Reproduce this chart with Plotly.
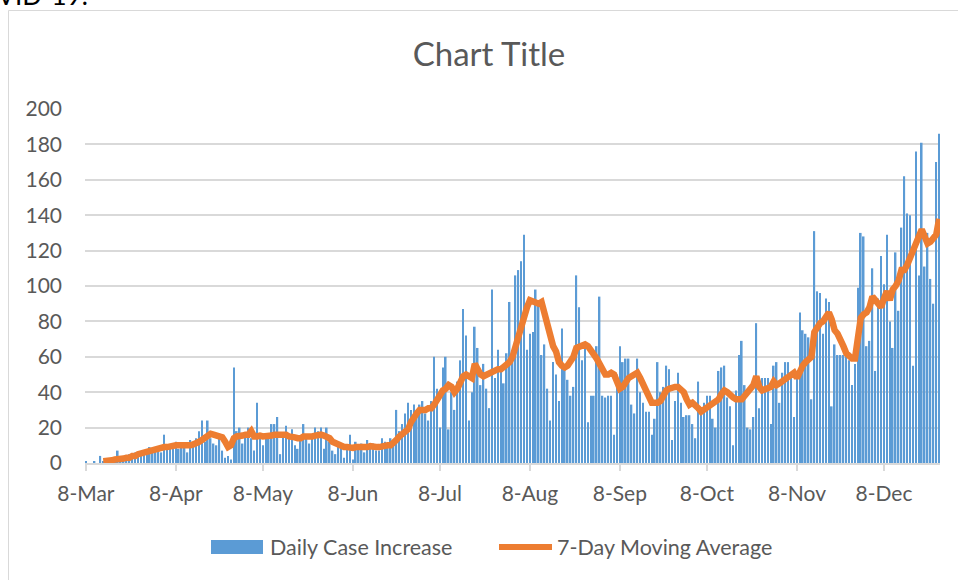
import pandas as pd
import plotly.graph_objects as go

# ---------------- data ----------------
START_DATE = "2020-03-08"
END_DATE = "2020-12-27"

daily_mar = [1, 0, 0, 1, 0, 4, 1, 2, 1, 3, 2, 7, 1, 3, 2, 5, 4, 6, 4, 6, 7, 5, 9, 6]
daily_apr = [8, 9, 6, 16, 8, 10, 9, 12, 8, 10, 11, 6, 13, 10, 14, 18, 24, 12, 24, 14,
             11, 10, 16, 7, 3, 4, 2, 54, 18, 20]
daily_may = [11, 16, 20, 14, 7, 34, 15, 10, 17, 14, 22, 22, 26, 5, 17, 21, 14, 19, 10, 8,
             15, 22, 14, 11, 16, 20, 18, 20, 8, 20, 12]
daily_jun = [7, 5, 12, 10, 3, 8, 16, 2, 12, 9, 11, 6, 13, 9, 11, 7, 7, 14, 12, 9,
             14, 10, 30, 18, 22, 28, 34, 30, 33, 26]
daily_jul = [33, 35, 28, 24, 35, 60, 42, 20, 54, 60, 19, 40, 30, 46, 58, 87, 72, 24, 40, 77,
             65, 44, 56, 42, 31, 98, 48, 64, 55, 45, 62]
daily_aug = [91, 60, 106, 109, 114, 129, 64, 73, 74, 98, 90, 61, 67, 42, 24, 57, 50, 35, 76, 55,
             47, 38, 43, 106, 88, 58, 67, 23, 38, 38, 66]
daily_sep = [94, 38, 37, 38, 38, 16, 50, 66, 57, 59, 59, 33, 28, 59, 40, 34, 29, 29, 16, 25,
             57, 40, 43, 55, 53, 13, 35, 51, 34, 26]
daily_oct = [27, 27, 22, 14, 46, 30, 34, 38, 38, 25, 20, 52, 54, 55, 37, 32, 10, 41, 61, 69,
             44, 20, 19, 26, 79, 31, 48, 48, 48, 22, 55]
daily_nov = [57, 34, 51, 57, 57, 48, 26, 49, 85, 75, 73, 71, 36, 131, 97, 96, 73, 93, 91, 32,
             67, 61, 61, 61, 61, 58, 44, 56, 99, 130]
daily_dec = [128, 66, 69, 110, 52, 93, 117, 101, 129, 80, 65, 119, 86, 133, 162, 141, 140, 55, 176, 106,
             181, 111, 130, 104, 90, 170, 186]

ma_mar = [None, None, None, None, None, None, 1, 1, 1.5, 1.5, 2, 2, 2, 2.5, 3, 3, 4, 4, 5, 5.5,
          6, 6.5, 7, 7.5]
ma_apr = [8, 8, 8.5, 9, 9, 9.5, 9.5, 10, 10, 10, 9.5, 10, 10, 10.5, 11, 12, 13, 14, 16, 16.5,
          16, 15.5, 15, 14.5, 12, 9, 10, 14, 15, 15]
ma_may = [15.5, 16, 16, 18, 15, 15, 15.5, 15, 15, 15, 15.5, 16, 16, 16, 15.5, 16, 15, 15, 14.5, 14,
          14, 15, 15, 14.5, 15, 15.5, 16, 16, 15.5, 15, 14]
ma_jun = [12, 11, 10, 9, 9, 9, 8.5, 8.5, 9, 9, 8.5, 9, 9, 9.5, 9, 9, 9, 9.5, 10, 10,
          10, 11, 13, 15, 16, 18, 19, 23, 26, 28]
ma_jul = [30, 30, 30, 31, 31, 33, 36, 39, 41, 42, 44, 43, 40, 42, 46, 49, 50, 49, 48, 56,
          53, 50, 49, 50, 51, 52, 53, 53, 53, 54, 56]
ma_aug = [57, 60, 66, 72, 79, 84, 88, 92, 91, 90, 90, 91, 85, 77, 70, 66, 63, 57, 55, 54,
          55, 57, 60, 65, 66, 66, 67, 66, 64, 62, 59]
ma_sep = [56, 53, 50, 50, 51, 50, 46, 42, 43, 46, 48, 49, 50, 51, 48, 44, 40, 36, 34, 34,
          34, 35, 38, 41, 42, 43, 43, 43, 42, 40]
ma_oct = [36, 33, 34, 33, 31, 29, 30, 32, 33, 33, 34, 36, 39, 41, 40, 38, 37, 36, 36, 36,
          38, 40, 42, 44, 49, 43, 41, 42, 42, 43, 46]
ma_nov = [44, 45, 46, 47, 48, 50, 51, 48, 52, 55, 57, 59, 60, 74, 77, 79, 80, 82, 85, 81,
          75, 73, 70, 66, 62, 60, 59, 59, 70, 82]
ma_dec = [84, 85, 88, 94, 92, 90, 88, 93, 97, 92, 98, 100, 103, 109, 109, 112, 116, 118, 124, 128,
          132, 128, 124, 125, 127, 129, 138]

tick_dates = ["2020-03-08", "2020-04-08", "2020-05-08", "2020-06-08", "2020-07-08",
              "2020-08-08", "2020-09-08", "2020-10-08", "2020-11-08", "2020-12-08"]
tick_labels = ["8-Mar", "8-Apr", "8-May", "8-Jun", "8-Jul", "8-Aug", "8-Sep", "8-Oct", "8-Nov", "8-Dec"]
y_ticks = [0, 20, 40, 60, 80, 100, 120, 140, 160, 180, 200]

series_daily_name = "Daily Case Increase"
series_ma_name = "7-Day Moving Average"
chart_title = "Chart Title"
doc_text = "COVID-19."

# ---------------- build ----------------
dates = pd.date_range(START_DATE, END_DATE, freq="D")
daily = (daily_mar + daily_apr + daily_may + daily_jun + daily_jul + daily_aug +
         daily_sep + daily_oct + daily_nov + daily_dec)
ma7 = (ma_mar + ma_apr + ma_may + ma_jun + ma_jul + ma_aug +
       ma_sep + ma_oct + ma_nov + ma_dec)

BLUE = "#5B9BD5"
ORANGE = "#ED7D31"
GRID = "#d9d9d9"
TXT = "#595959"
FONT = "Lato"

W, H = 958, 580
L, R, T, B = 85, 940, 109, 463


def px(x):
    return (x - L) / (R - L)


def py(y):
    return (B - y) / (B - T)


fig = go.Figure()
fig.add_trace(go.Bar(x=dates, y=daily, name=series_daily_name,
                     marker=dict(color=BLUE, line=dict(width=0))))
fig.add_trace(go.Scatter(x=dates, y=ma7, name=series_ma_name, mode="lines",
                         line=dict(color=ORANGE, width=6.5), connectgaps=False))

x_start = pd.Timestamp(START_DATE) - pd.Timedelta(hours=7)
x_end = pd.Timestamp(END_DATE) + pd.Timedelta(hours=7)

fig.update_layout(
    width=W, height=H,
    margin=dict(l=L, r=W - R, t=T, b=H - B, pad=0),
    paper_bgcolor="white", plot_bgcolor="white",
    showlegend=False,
    bargap=0.45,
    font=dict(family=FONT, color=TXT, size=21),
    title=dict(text=chart_title, font=dict(family=FONT, size=33, color=TXT),
               xref="container", yref="container",
               x=489 / W, y=1 - 54 / H, xanchor="center", yanchor="middle"),
    xaxis=dict(type="date", range=[x_start, x_end],
               tickmode="array", tickvals=tick_dates, ticktext=tick_labels,
               ticks="outside", ticklen=6, tickcolor=GRID, tickwidth=1.5,
               showline=True, linecolor=GRID, linewidth=1.5,
               showgrid=False, zeroline=False,
               tickfont=dict(family=FONT, size=21, color=TXT),
               ticklabelstandoff=5),
    yaxis=dict(range=[0, 200], tickmode="array", tickvals=y_ticks,
               showgrid=True, gridcolor=GRID, gridwidth=1.5,
               zeroline=False, showline=False, ticks="",
               tickfont=dict(family=FONT, size=21, color=TXT),
               ticklabelstandoff=22),
)

shapes = [
    # chart border
    dict(type="rect", xref="paper", yref="paper",
         x0=px(8.5), x1=px(1010), y0=py(10.5), y1=py(640),
         line=dict(color=GRID, width=1), fillcolor="rgba(0,0,0,0)", layer="below"),
    # legend: bar swatch
    dict(type="rect", xref="paper", yref="paper",
         x0=px(211), x1=px(263), y0=py(554), y1=py(540),
         line=dict(width=0), fillcolor=BLUE),
    # legend: line swatch
    dict(type="line", xref="paper", yref="paper",
         x0=px(499), x1=px(552), y0=py(547), y1=py(547),
         line=dict(color=ORANGE, width=6)),
]
fig.update_layout(shapes=shapes)

annotations = [
    dict(text=series_daily_name, xref="paper", yref="paper", x=px(268), y=py(547),
         xanchor="left", yanchor="middle", showarrow=False,
         font=dict(family=FONT, size=21.5, color=TXT)),
    dict(text=series_ma_name, xref="paper", yref="paper", x=px(555), y=py(547),
         xanchor="left", yanchor="middle", showarrow=False,
         font=dict(family=FONT, size=21.5, color=TXT)),
    dict(text=doc_text, xref="paper", yref="paper", x=px(90), y=py(13),
         xanchor="right", yanchor="bottom", showarrow=False,
         font=dict(family=FONT, size=26, color="black")),
]
fig.update_layout(annotations=annotations)

fig.write_html(
    "out.html",
    config={"displayModeBar": False},
    post_script="document.body.style.margin='0';document.body.style.overflow='hidden';",
)
